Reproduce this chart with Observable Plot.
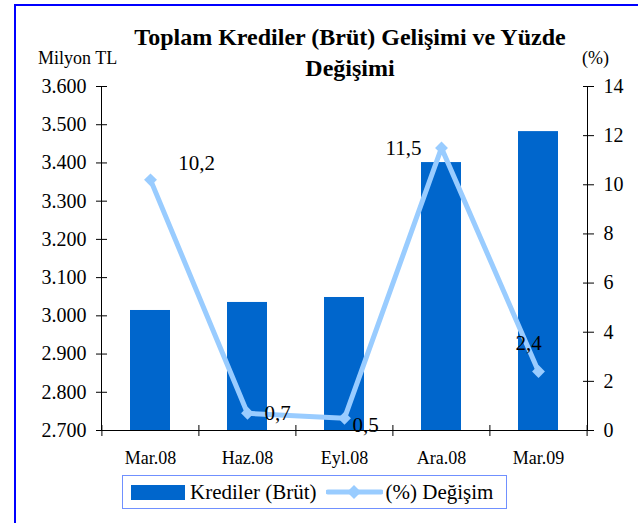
<!DOCTYPE html>
<html><head><meta charset="utf-8">
<script src="https://cdn.jsdelivr.net/npm/d3@7"></script>
<script src="https://cdn.jsdelivr.net/npm/@observablehq/plot@0.6"></script>
<style>
body{margin:0;background:#fff;}
#wrap{position:relative;width:638px;height:523px;overflow:hidden;font-family:"Liberation Serif","Times New Roman",serif;color:#000;background:#fff;}
#frame{position:absolute;left:14px;top:4px;width:700px;height:600px;border-left:2px solid #0000ff;border-top:2px solid #0000ff;}
#chart{position:absolute;left:0;top:0;}
.t{position:absolute;white-space:nowrap;font-family:"Liberation Serif","Times New Roman",serif;}
#title{left:100px;width:500px;top:22px;text-align:center;font-weight:bold;font-size:24px;line-height:31px;}
#ylab{left:38px;top:48px;font-size:18px;line-height:20px;}
#y2lab{left:582px;top:48px;font-size:18px;line-height:20px;}
#legend{position:absolute;left:122px;top:475px;width:385px;height:34px;border:1px solid #7090ff;box-sizing:border-box;display:flex;align-items:center;font-size:21px;font-family:"Liberation Serif","Times New Roman",serif;}
#legend .sw{display:inline-block;width:54px;height:15px;background:#0066cc;margin-left:8px;margin-right:5px;}
#legend svg{margin-left:9px;margin-right:3px;}
</style>
</head><body>
<div id="wrap">
  <div id="frame"></div>
  <div id="chart"></div>
  <div class="t" id="title">Toplam Krediler (Brüt) Gelişimi ve Yüzde<br>Değişimi</div>
  <div class="t" id="ylab">Milyon TL</div>
  <div class="t" id="y2lab">(%)</div>
  <div id="legend"><span class="sw"></span><span>Krediler (Brüt)</span><svg width="57" height="16"><line x1="2" y1="8" x2="55" y2="8" stroke="#99ccff" stroke-width="5" stroke-linecap="round"/><path d="M28,1 L35,8 L28,15 L21,8 Z" fill="#99ccff"/></svg><span>(%) Değişim</span></div>
</div>
<script>
const periods = ["Mar.08", "Haz.08", "Eyl.08", "Ara.08", "Mar.09"];
const krediler = [3014, 3035, 3048, 3401, 3482];
const degisim = [10.2, 0.7, 0.5, 11.5, 2.4];
const degisimLabels = ["10,2", "0,7", "0,5", "11,5", "2,4"];
const leftTicks = [2700, 2800, 2900, 3000, 3100, 3200, 3300, 3400, 3500, 3600];
const rightTicks = [0, 2, 4, 6, 8, 10, 12, 14];

const yMin = 2700, yMax = 3600, pMax = 14;
const toLeft = v => yMin + v * (yMax - yMin) / pMax;
const data = periods.map((p, i) => ({period: p, kredi: krediler[i], pct: degisim[i], label: degisimLabels[i], i}));
const fmtTL = d => `${Math.floor(d / 1000)}.${String(d % 1000).padStart(3, "0")}`;

const W = 638, H = 523, mL = 101, mR = 51, mT = 86, mB = 93;
const step = (W - mL - mR) / periods.length;

const lbl = (idx, opts) => Plot.text(data.filter(d => d.i === idx), {x: "period", y: d => toLeft(d.pct), text: "label", fontSize: 21, fill: "#000", ...opts});

const chart = Plot.plot({
  width: W, height: H,
  marginLeft: mL, marginRight: mR, marginTop: mT, marginBottom: mB,
  style: {fontFamily: "'Liberation Serif','Times New Roman',serif", fontSize: "19px", color: "#000", background: "transparent"},
  x: {domain: periods, paddingInner: 0.59, paddingOuter: 0.295, label: null},
  y: {domain: [yMin, yMax], label: null},
  marks: [
    Plot.barY(data, {x: "period", y1: yMin, y2: "kredi", fill: "#0066cc"}),
    Plot.frame({anchor: "left", stroke: "#000"}),
    Plot.frame({anchor: "right", stroke: "#000"}),
    Plot.ruleY([yMin], {stroke: "#000"}),
    Plot.ruleX(periods, {x: d => d, y1: yMin, y2: yMin, insetTop: -5, insetBottom: -6, dx: -step / 2, stroke: "#000"}),
    Plot.ruleX([periods[periods.length - 1]], {x: d => d, y1: yMin, y2: yMin, insetTop: -5, insetBottom: -6, dx: step / 2, stroke: "#000"}),
    Plot.axisY({ticks: leftTicks, anchor: "left", tickSize: 11, dx: 6, tickFormat: () => "", label: null, stroke: "#000"}),
    Plot.axisY({ticks: leftTicks, anchor: "left", tickSize: 0, tickPadding: 15, tickFormat: fmtTL, label: null, fontSize: 20}),
    Plot.axisY({ticks: rightTicks.map(toLeft), anchor: "right", tickSize: 11, dx: -5, tickFormat: () => "", label: null, stroke: "#000"}),
    Plot.axisY({ticks: rightTicks.map(toLeft), anchor: "right", tickSize: 0, tickPadding: 16, tickFormat: d => String(Math.round((d - yMin) * pMax / (yMax - yMin))), label: null, fontSize: 20}),
    Plot.axisX({tickSize: 0, tickPadding: 21, label: null, fontSize: 18}),
    Plot.line(data, {x: "period", y: d => toLeft(d.pct), stroke: "#99ccff", strokeWidth: 5, strokeLinejoin: "round"}),
    Plot.dot(data, {x: "period", y: d => toLeft(d.pct), symbol: "diamond2", r: 5.8, fill: "#99ccff", stroke: "none"}),
    lbl(0, {dx: 46, dy: -17}),
    lbl(1, {dx: 30, dy: 0}),
    lbl(2, {dx: 21, dy: 7}),
    lbl(3, {dx: -38, dy: 0}),
    lbl(4, {dx: -10, dy: -28})
  ]
});
document.getElementById("chart").appendChild(chart);
</script>
</body></html>
